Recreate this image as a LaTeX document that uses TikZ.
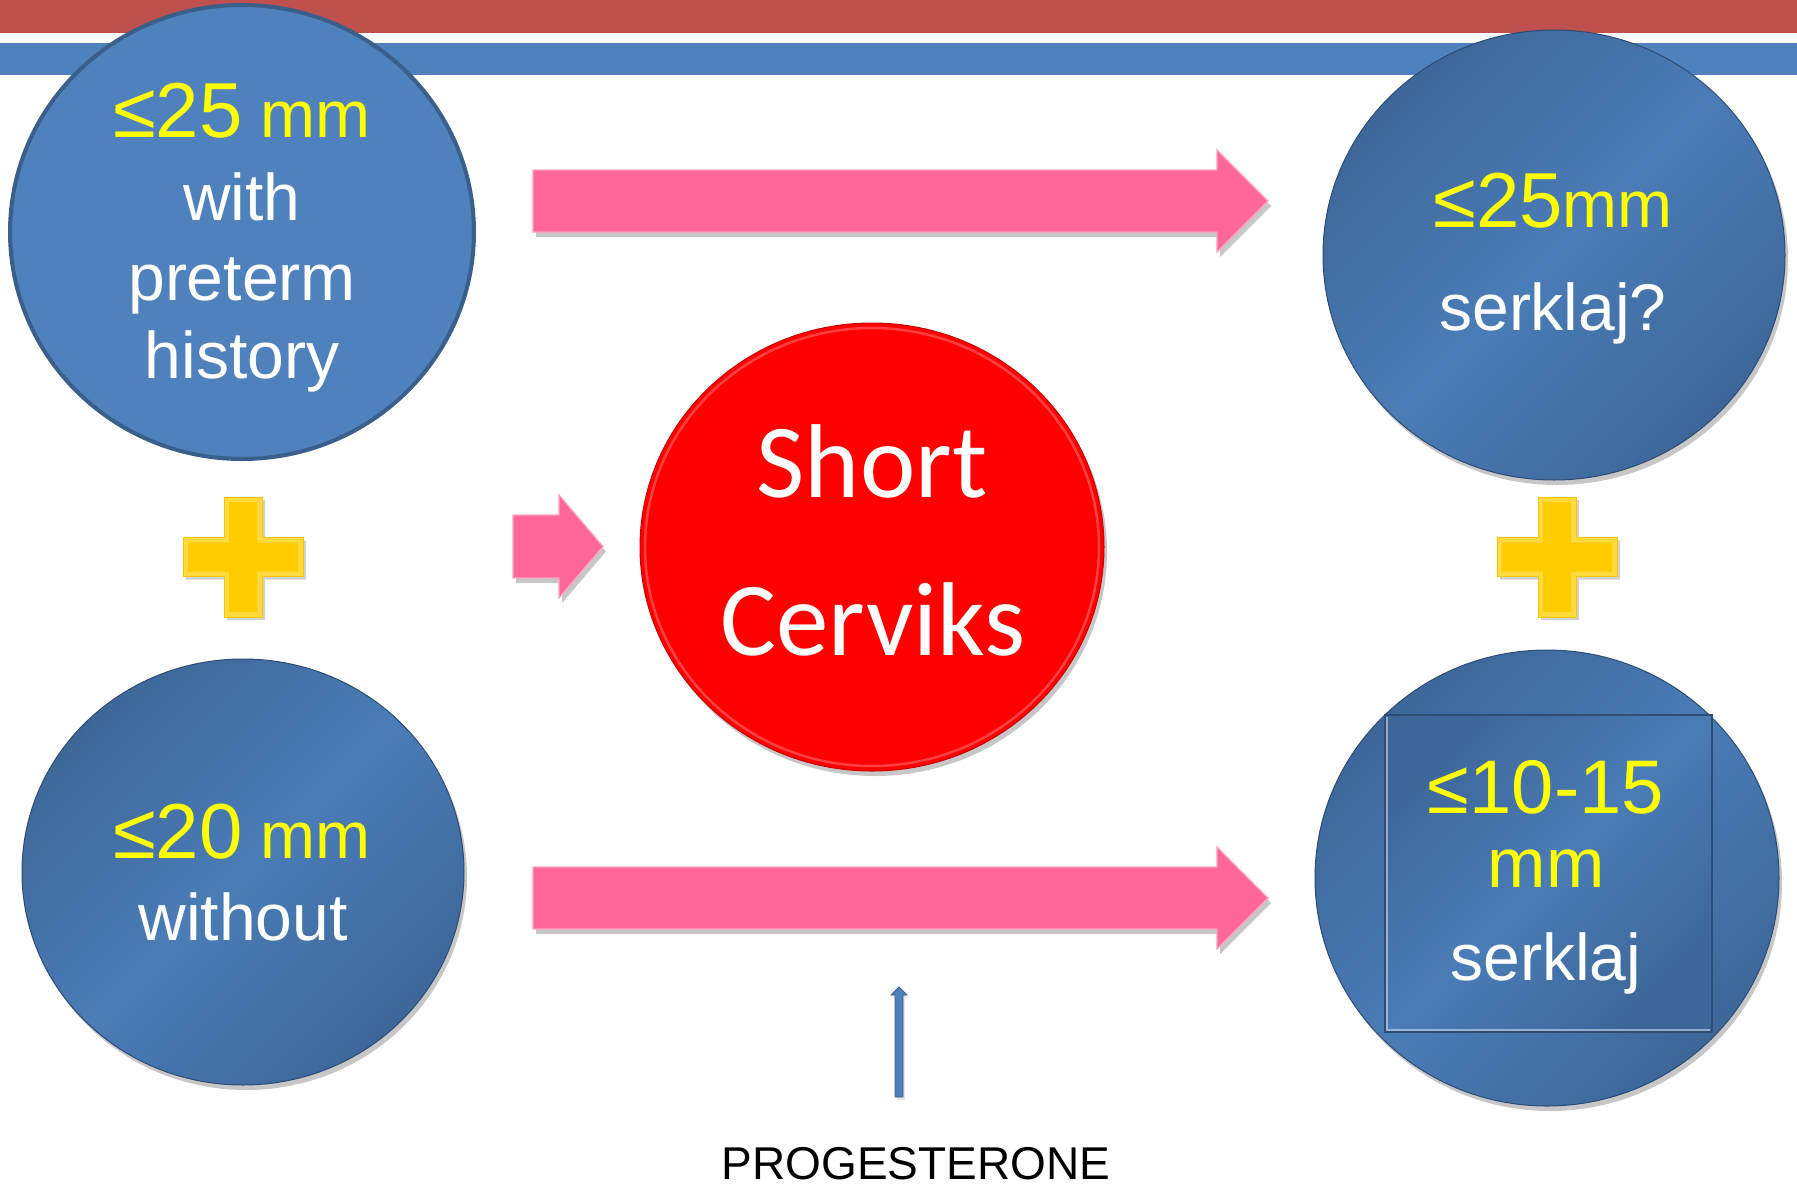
\documentclass[tikz,border=0pt]{standalone}
\usepackage{graphicx}
\usepackage{fontspec}
\setmainfont{Liberation Sans}
\newfontfamily\calib{Carlito}
\usetikzlibrary{shapes.geometric,shadows,calc}
\definecolor{barred}{HTML}{C0504D}
\definecolor{barblue}{HTML}{4F81BD}
\definecolor{cblue}{HTML}{4F81BD}
\definecolor{cblueborder}{HTML}{3A5F8B}
\definecolor{blueD}{HTML}{3D6799}
\definecolor{blueL}{HTML}{4A7CB7}
\definecolor{blueEdge}{HTML}{2E4D75}
\definecolor{pinkA}{HTML}{FF6699}
\definecolor{pinkE}{HTML}{FFA3C4}
\definecolor{goldA}{HTML}{FFCC00}
\definecolor{goldE}{HTML}{FFDB3D}
\definecolor{yel}{HTML}{FFFF00}
\begin{document}
\begin{tikzpicture}[x=1pt,y=-1pt,
  softshadow/.style={drop shadow={shadow xshift=3pt,shadow yshift=-5pt,opacity=0.22,fill=black}},
  shadedcirc/.style={ellipse,inner sep=0,left color=blueD,right color=blueD,middle color=blueL,shading angle=45,draw=blueEdge,line width=1,softshadow},
  lbl/.style={anchor=base,inner sep=0,text=white,font=\fontsize{66}{79}\selectfont},
  ylbl/.style={lbl,text=yel},
  pinkarrow/.style={fill=pinkA,draw=pinkE,line width=1.2,line join=miter,softshadow},
  plusshape/.pic={
    \fill[black,opacity=0.18] (-57,-16.5) -- (-16,-16.5) -- (-16,-57) -- (22,-57) -- (22,-16.5) -- (63,-16.5) -- (63,22.5) -- (22,22.5) -- (22,63) -- (-16,63) -- (-16,22.5) -- (-57,22.5) -- cycle;
    \fill[goldE,draw=goldA!90!orange,line width=0.8] (-60,-19.5) -- (-19,-19.5) -- (-19,-60) -- (19,-60) -- (19,-19.5) -- (60,-19.5) -- (60,19.5) -- (19,19.5) -- (19,60) -- (-19,60) -- (-19,19.5) -- (-60,19.5) -- cycle;
    \fill[goldA] (-55,-14.5) -- (-14,-14.5) -- (-14,-55) -- (14,-55) -- (14,-14.5) -- (55,-14.5) -- (55,14.5) -- (14,14.5) -- (14,55) -- (-14,55) -- (-14,14.5) -- (-55,14.5) -- cycle;
  }]
\useasboundingbox (0,0) rectangle (1797,1186);
\fill[white] (0,0) rectangle (1797,1186);
% header bars
\fill[barred] (0,0) rectangle (1797,33);
\fill[barblue] (0,43) rectangle (1797,75);

% top-left circle
\node[ellipse,inner sep=0,minimum width=464,minimum height=454,fill=cblue,draw=cblueborder,line width=4] (c1) at (242,232) {};
\node[ylbl] (c1a) at (242,137) {{\fontsize{78}{90}\selectfont ≤25} mm};
\node[lbl] (c1b) at (242,220) {with};
\node[lbl] (c1c) at (242,300) {preterm};
\node[lbl] (c1d) at (242,378) {history};

% bottom-left circle
\node[shadedcirc,minimum width=442,minimum height=426] (c4) at (243,872) {};
\node[ylbl] (c4a) at (242,858) {{\fontsize{78}{90}\selectfont ≤20} mm};
\node[lbl] (c4b) at (243,940) {without};

% top-right circle
\node[shadedcirc,minimum width=462,minimum height=450] (c2) at (1554,255) {};
\node[ylbl] (c2a) at (1553,227) {{\fontsize{78}{90}\selectfont ≤25}mm};
\node[lbl] (c2b) at (1553,330) {serklaj?};

% bottom-right circle with inner square
\node[shadedcirc,minimum width=464,minimum height=456] (c3) at (1547,878) {};
\node[rectangle,inner sep=0,minimum width=327,minimum height=317,left color=blueD,right color=blueD,middle color=blueL,shading angle=45,draw=blueEdge,line width=1.2] (sq) at (1548.5,873.5) {};
\draw[white,opacity=0.45,line width=1.5] ($(sq.north west)+(2.5,2.5)$) -- ($(sq.south west)+(2.5,-2.5)$) -- ($(sq.south east)+(-2.5,-2.5)$);
\node[ylbl] (c3a) at (1546,813) {\fontsize{76}{90}\selectfont ≤10-15};
\node[ylbl] (c3b) at (1546,887) {\fontsize{70}{80}\selectfont mm};
\node[lbl] (c3c) at (1546,980) {serklaj};

% central red circle
\node[ellipse,inner sep=0,minimum width=464,minimum height=448,fill=red,draw=red!80!black,line width=1,softshadow] (sc) at (872,547) {};
\draw[white,opacity=0.25,line width=2.5] (sc.center) ellipse [x radius=227,y radius=219];
\node[lbl,font=\calib\fontsize{105}{120}\selectfont] (sc1) at (872,497) {Short};
\node[lbl,font=\calib\fontsize{105}{120}\selectfont] (sc2) at (873,655) {Cerviks};

% plus signs
\coordinate (pl1) at (243,557);
\coordinate (pl2) at (1557,557);
\pic at (pl1) {plusshape};
\pic at (pl2) {plusshape};

% pink block arrows
\coordinate (ta) at (533,201);
\coordinate (ba) at (533,898);
\coordinate (sa) at (513,546.5);
\filldraw[pinkarrow] ($(ta)+(0,-31)$) -- ++(684,0) -- ++(0,-20) -- ++(51,51) -- ++(-51,51) -- ++(0,-20) -- ++(-684,0) -- cycle;
\filldraw[pinkarrow] ($(ba)+(0,-31)$) -- ++(684,0) -- ++(0,-20) -- ++(51,51) -- ++(-51,51) -- ++(0,-20) -- ++(-684,0) -- cycle;
\filldraw[pinkarrow] ($(sa)+(0,-31.5)$) -- ++(46,0) -- ++(0,-20) -- ++(44,51.5) -- ++(-44,51.5) -- ++(0,-20) -- ++(-46,0) -- cycle;

% progesterone
\node[anchor=base,inner sep=0,text=black,font=\fontsize{46}{52}\selectfont] (prog) at (916,1179) {PROGESTERONE};
\coordinate (pa) at (899,1097);
\coordinate (pb) at (899,987);
\filldraw[fill=cblue,draw=cblueborder,line width=0.8,drop shadow={shadow xshift=2pt,shadow yshift=-3pt,opacity=0.2}]
  ($(pa)+(-4,0)$) -- ($(pb)+(-4,8)$) -- ($(pb)+(-8,8)$) -- (pb) -- ($(pb)+(8,8)$) -- ($(pb)+(4,8)$) -- ($(pa)+(4,0)$) -- cycle;
\end{tikzpicture}
\end{document}
